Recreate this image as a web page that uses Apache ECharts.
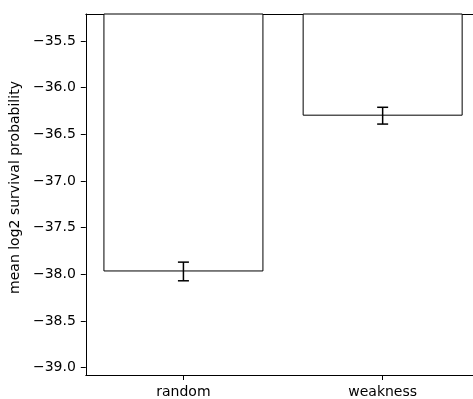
<!DOCTYPE html>
<html>
<head>
<meta charset="utf-8">
<script src="https://cdn.jsdelivr.net/npm/echarts@6/dist/echarts.min.js"></script>
<style>
  html, body { margin: 0; padding: 0; background: #fff; }
  #chart { width: 473px; height: 399px; }
</style>
</head>
<body>
<div id="chart"></div>
<script>
// data
var categories = ['random', 'weakness']
var means = [-37.97, -36.30]
var errors = [0.10, 0.09]
var yTicks = [-39.0, -38.5, -38.0, -37.5, -37.0, -36.5, -36.0, -35.5]

var font = 'DejaVu Sans'
var chart = echarts.init(document.getElementById('chart'))

var barData = means.map(function (v, i) { return [i, v] })
var errData = means.map(function (v, i) { return [i, v - errors[i], v + errors[i]] })

// the plot runs past the right edge of the picture, so the x range stops at 1.4535
var xMin = -0.49
var xMax = 1.4535

chart.setOption({
  animation: false,
  backgroundColor: '#fff',
  grid: {
    left: 85,
    right: 0,
    top: 14,
    bottom: 23
  },
  xAxis: [
    {
      type: 'value',
      min: xMin,
      max: xMax,
      splitLine: { show: false },
      axisLine: { show: true, onZero: false, lineStyle: { color: '#000', width: 1 } },
      axisTick: { show: true, length: 5, customValues: [0, 1], lineStyle: { color: '#000' } },
      axisLabel: {
        customValues: [0, 1],
        margin: 10,
        fontFamily: font,
        fontSize: 14,
        color: '#000',
        formatter: function (v) { return categories[Math.round(v)] }
      }
    },
    {
      // top spine only
      type: 'value',
      position: 'top',
      min: xMin,
      max: xMax,
      splitLine: { show: false },
      axisLine: { show: true, onZero: false, lineStyle: { color: '#000', width: 1 } },
      axisTick: { show: false },
      axisLabel: { show: false }
    }
  ],
  yAxis: {
    type: 'value',
    min: -39.08,
    max: -35.21,
    name: 'mean log2 survival probability',
    nameLocation: 'middle',
    nameGap: 58,
    nameTextStyle: { fontFamily: font, fontSize: 14, color: '#000', padding: [0, 0, 0, 14] },
    splitLine: { show: false },
    axisLine: { show: true, onZero: false, lineStyle: { color: '#000', width: 1 } },
    axisTick: { show: true, length: 5, customValues: yTicks, lineStyle: { color: '#000' } },
    axisLabel: {
      customValues: yTicks,
      margin: 10,
      fontFamily: font,
      fontSize: 14,
      color: '#000',
      formatter: function (v) { return v.toFixed(1).replace('-', '\u2212') }
    }
  },
  series: [
    {
      type: 'bar',
      data: barData,
      barWidth: 160,
      clip: true,
      itemStyle: { color: '#fff', borderColor: '#000', borderWidth: 1 }
    },
    {
      type: 'custom',
      data: errData,
      z: 5,
      renderItem: function (params, api) {
        var lo = api.coord([api.value(0), api.value(1)])
        var hi = api.coord([api.value(0), api.value(2)])
        var x = lo[0]
        var cap = 5.5
        var style = { stroke: '#000', lineWidth: 1.5 }
        return {
          type: 'group',
          children: [
            { type: 'line', shape: { x1: x, y1: lo[1], x2: x, y2: hi[1] }, style: style },
            { type: 'line', shape: { x1: x - cap, y1: lo[1], x2: x + cap, y2: lo[1] }, style: style },
            { type: 'line', shape: { x1: x - cap, y1: hi[1], x2: x + cap, y2: hi[1] }, style: style }
          ]
        }
      }
    }
  ]
})
</script>
</body>
</html>
